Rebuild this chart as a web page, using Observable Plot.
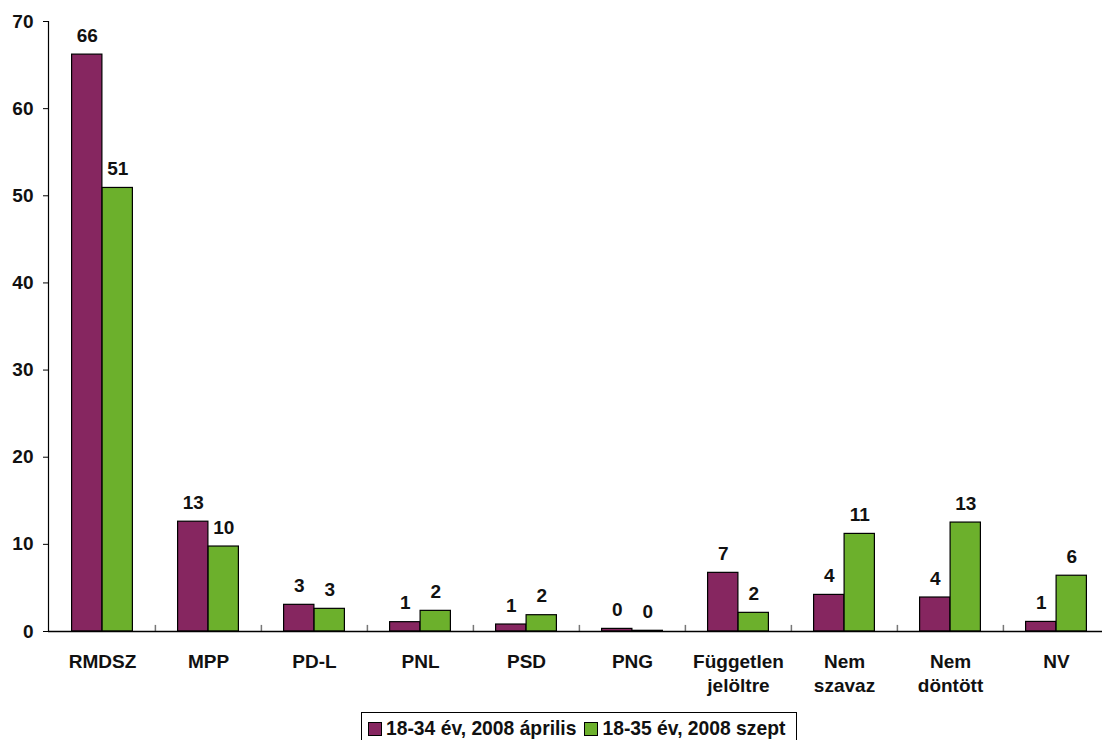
<!DOCTYPE html>
<html>
<head>
<meta charset="utf-8">
<script src="https://cdn.jsdelivr.net/npm/d3@7"></script>
<script src="https://cdn.jsdelivr.net/npm/@observablehq/plot@0.6"></script>
<style>
  html, body { margin: 0; padding: 0; background: #fff; overflow: hidden; }
  #wrap { position: relative; width: 1102px; height: 740px; font-family: "Liberation Sans", Arial, sans-serif; }
  #legend { position: absolute; left: 361px; top: 712px; width: 436px; height: 34px; border: 1px solid #000; box-sizing: border-box;
    display: flex; align-items: center; padding-left: 6px; font-weight: bold; font-size: 19.3px; color: #111; white-space: nowrap; }
  .sw { display: inline-block; width: 12px; height: 12px; border: 1px solid #000; margin-right: 4px; }
  .item { display: inline-flex; align-items: center; margin-right: 8px; }
</style>
</head>
<body>
<div id="wrap">
  <div id="chart"></div>
  <div id="legend"></div>
</div>
<script>
const categories = ["RMDSZ","MPP","PD-L","PNL","PSD","PNG","Független\njelöltre","Nem\nszavaz","Nem\ndöntött","NV"];
const seriesNames = ["18-34 év, 2008 április", "18-35 év, 2008 szept"];
const seriesColors = ["#862660", "#6cb02c"];
const april = [66.2, 12.6, 3.06, 1.07, 0.8, 0.3, 6.73, 4.2, 3.9, 1.1];
const sept = [50.9, 9.75, 2.6, 2.37, 1.87, 0.08, 2.14, 11.2, 12.5, 6.4];
const aprilLabels = [66, 13, 3, 1, 1, 0, 7, 4, 4, 1];
const septLabels = [51, 10, 3, 2, 2, 0, 2, 11, 13, 6];
const yTicks = [0, 10, 20, 30, 40, 50, 60, 70];

const rowsA = categories.map((c, i) => ({cat: c, v: april[i], label: aprilLabels[i], s: seriesNames[0]}));
const rowsS = categories.map((c, i) => ({cat: c, v: sept[i], label: septLabels[i], s: seriesNames[1]}));

const left = 48, right = 1110;
const band = (right - left) / categories.length;
const barW = 30.5;
const outer = (band - 2 * barW) / 2;

const font = {fontWeight: "bold", fontSize: 19, fill: "#111"};

const chart = Plot.plot({
  width: 1102,
  height: 706,
  marginTop: 21,
  marginBottom: 75,
  marginLeft: 48,
  marginRight: 0,
  style: {fontFamily: "'Liberation Sans', Arial, sans-serif", background: "#fff", overflow: "visible"},
  x: {domain: categories, range: [left, right], padding: 0},
  y: {domain: [0, 70]},
  color: {domain: seriesNames, range: seriesColors},
  marks: [
    Plot.barY(rowsA, {x: "cat", y: "v", fill: "s", stroke: "#000", strokeWidth: 1.2, insetLeft: outer, insetRight: outer + barW}),
    Plot.barY(rowsS, {x: "cat", y: "v", fill: "s", stroke: "#000", strokeWidth: 1.2, insetLeft: outer + barW, insetRight: outer}),
    Plot.text(rowsA, {x: "cat", y: "v", text: "label", dx: -barW / 2, dy: -13, lineAnchor: "bottom", ...font}),
    Plot.text(rowsS, {x: "cat", y: "v", text: "label", dx: barW / 2, dy: -13, lineAnchor: "bottom", ...font}),
    Plot.ruleX(categories.slice(1), {x: d => d, dx: -band / 2, y1: 0, y2: 0.7, stroke: "#777", strokeWidth: 1.5}),
    Plot.ruleY([0], {stroke: "#000", strokeWidth: 1.5}),
    Plot.frame({anchor: "left", stroke: "#000", strokeWidth: 1.2}),
    Plot.axisY({ticks: yTicks, tickSize: 5, tickPadding: 10, tickFormat: d => d, label: null, stroke: "#000", ...font}),
    Plot.axisX({tickSize: 0, tickPadding: 20, label: null, lineHeight: 1.25, ...font})
  ]
});
document.getElementById("chart").appendChild(chart);

const lg = document.getElementById("legend");
seriesNames.forEach((n, i) => {
  const it = document.createElement("span");
  it.className = "item";
  const sw = document.createElement("span");
  sw.className = "sw";
  sw.style.background = seriesColors[i];
  it.appendChild(sw);
  it.appendChild(document.createTextNode(n));
  lg.appendChild(it);
});
</script>
</body>
</html>
